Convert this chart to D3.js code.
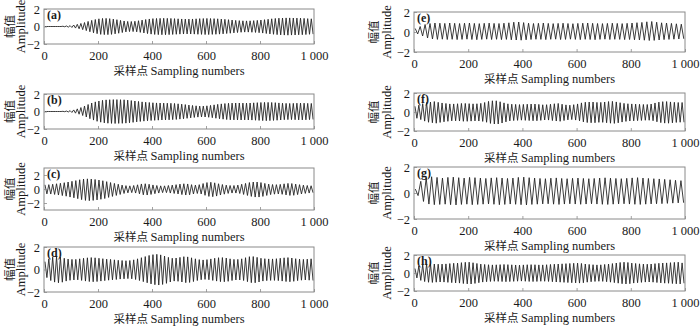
<!DOCTYPE html>
<html>
<head>
<meta charset="utf-8">
<script src="https://cdn.jsdelivr.net/npm/d3@7"></script>
<style>
html,body{margin:0;padding:0;background:#fff;}
svg{display:block;}
</style>
</head>
<body>
<svg id="chart" width="700" height="326"></svg>
<script>
// ---------- data ----------
const xTicks = [0, 200, 400, 600, 800, 1000];
const xTickLabels = ["0", "200", "400", "600", "800", "1 000"];
const yTicks = [-2, 0, 2];
const yTickLabels = ["\u22122", "0", "2"];
const panelLabels = ["(a)", "(b)", "(c)", "(d)", "(e)", "(f)", "(g)", "(h)"];
const yTitleCn = "幅值";
const yTitleEn = "Amplitude";
const xTitleCn = "采样点";
const xTitleEn = "Sampling numbers";

// successive positive peaks / negative troughs of each signal
const aPeaks = [0,0,0,0,0,0.03,0.06,0.1,0.17,0.25,
  0.35,0.45,0.58,0.7,0.8,0.88,0.92,0.93,0.9,0.85,
  0.78,0.7,0.63,0.58,0.57,0.6,0.66,0.73,0.8,0.86,
  0.9,0.92,0.93,0.94,0.93,0.92,0.9,0.88,0.86,0.85,
  0.85,0.86,0.88,0.9,0.91,0.92,0.91,0.9,0.88,0.85,
  0.82,0.78,0.74,0.7,0.67,0.65,0.64,0.65,0.67,0.7,
  0.74,0.78,0.83,0.88,0.92,0.95,0.97,0.98,0.98,0.97,
  0.96,0.95,0.93,0.9,0.88];
const aTroughs = [0,0,0,0,0,-0.03,-0.07,-0.11,-0.18,-0.26,
  -0.36,-0.47,-0.6,-0.72,-0.82,-0.9,-0.93,-0.93,-0.9,-0.84,
  -0.77,-0.69,-0.62,-0.58,-0.58,-0.61,-0.67,-0.74,-0.81,-0.87,
  -0.91,-0.93,-0.94,-0.94,-0.93,-0.91,-0.89,-0.87,-0.86,-0.85,
  -0.86,-0.87,-0.89,-0.9,-0.92,-0.92,-0.9,-0.89,-0.87,-0.84,
  -0.8,-0.77,-0.73,-0.69,-0.66,-0.64,-0.64,-0.66,-0.68,-0.71,
  -0.75,-0.8,-0.85,-0.89,-0.93,-0.96,-0.98,-0.99,-0.98,-0.97,
  -0.95,-0.94,-0.92,-0.89,-0.87];

const bPeaks = [0,0,0,0,0,0.02,
  0.05,0.1,0.18,0.3,0.45,0.62,0.8,0.97,1.1,1.2,
  1.28,1.33,1.35,1.36,1.36,1.35,1.34,1.3,1.25,1.2,
  1.15,1.1,1.06,1.03,1.0,0.98,0.97,0.96,0.95,0.94,
  0.92,0.88,0.84,0.79,0.74,0.69,0.65,0.62,0.62,0.65,
  0.7,0.76,0.82,0.87,0.91,0.94,0.96,0.97,0.97,0.96,
  0.96,0.97,0.99,1.01,1.03,1.04,1.04,1.03,1.01,0.98,
  0.95,0.93,0.92,0.93,0.95,0.96,0.95,0.93,0.92];
const bTroughs = [0,0,0,0,0,-0.02,
  -0.05,-0.11,-0.19,-0.31,-0.46,-0.63,-0.82,-0.98,-1.12,-1.22,
  -1.3,-1.34,-1.36,-1.37,-1.36,-1.35,-1.33,-1.29,-1.24,-1.19,
  -1.14,-1.1,-1.06,-1.03,-1.01,-0.99,-0.97,-0.96,-0.95,-0.93,
  -0.91,-0.87,-0.83,-0.78,-0.73,-0.68,-0.64,-0.62,-0.63,-0.66,
  -0.71,-0.77,-0.83,-0.88,-0.92,-0.95,-0.96,-0.97,-0.97,-0.96,
  -0.97,-0.98,-1.0,-1.02,-1.04,-1.05,-1.04,-1.02,-1.0,-0.97,
  -0.94,-0.93,-0.93,-0.94,-0.96,-0.96,-0.95,-0.93,-0.91];

const cPeaks = [0.6,0.62,0.68,0.75,0.82,0.9,1.0,1.1,1.2,1.32,
  1.42,1.45,1.42,1.36,1.28,1.18,1.05,0.92,0.8,0.68,
  0.56,0.48,0.45,0.5,0.6,0.72,0.75,0.68,0.58,0.5,
  0.45,0.45,0.5,0.56,0.62,0.7,0.75,0.72,0.62,0.56,
  0.62,0.78,0.92,0.96,0.88,0.75,0.64,0.55,0.5,0.5,
  0.56,0.68,0.8,0.92,1.0,1.0,0.92,0.8,0.7,0.64,
  0.62,0.66,0.74,0.8,0.78,0.7,0.62,0.55,0.5,0.46];
const cTroughs = [-0.7,-0.72,-0.78,-0.86,-0.94,-1.03,-1.15,-1.26,-1.38,-1.52,
  -1.63,-1.67,-1.63,-1.56,-1.47,-1.36,-1.2,-1.06,-0.92,-0.78,
  -0.64,-0.55,-0.52,-0.58,-0.69,-0.83,-0.86,-0.78,-0.67,-0.58,
  -0.52,-0.52,-0.58,-0.64,-0.71,-0.8,-0.86,-0.83,-0.71,-0.64,
  -0.71,-0.9,-1.06,-1.1,-1.01,-0.86,-0.74,-0.63,-0.58,-0.58,
  -0.64,-0.78,-0.92,-1.06,-1.15,-1.15,-1.06,-0.92,-0.8,-0.74,
  -0.71,-0.76,-0.85,-0.92,-0.9,-0.8,-0.71,-0.63,-0.58,-0.53];

const dPeaks = [0.7,0.95,1.1,1.15,1.1,1.0,0.93,0.9,0.9,0.95,
  1.0,1.04,1.06,1.04,1.0,0.96,0.92,0.9,0.86,0.82,
  0.8,0.78,0.8,0.86,0.95,1.05,1.15,1.25,1.32,1.35,
  1.3,1.2,1.08,1.0,1.02,1.08,1.14,1.12,1.04,0.95,
  0.88,0.85,0.88,0.94,1.0,1.05,1.06,1.02,0.95,0.9,
  0.9,0.95,1.05,1.14,1.15,1.08,1.0,0.96,0.94,0.94,
  0.96,1.0,1.04,1.06,1.02,0.96,0.92,0.9,0.92,0.95];
const dTroughs = [-0.72,-0.98,-1.12,-1.18,-1.13,-1.03,-0.96,-0.93,-0.92,-0.97,
  -1.03,-1.07,-1.09,-1.07,-1.03,-0.99,-0.95,-0.92,-0.89,-0.85,
  -0.83,-0.81,-0.83,-0.89,-0.98,-1.08,-1.18,-1.28,-1.35,-1.38,
  -1.33,-1.23,-1.11,-1.03,-1.05,-1.11,-1.17,-1.15,-1.07,-0.98,
  -0.91,-0.88,-0.91,-0.97,-1.03,-1.08,-1.09,-1.05,-0.98,-0.93,
  -0.93,-0.98,-1.08,-1.17,-1.18,-1.11,-1.03,-0.99,-0.97,-0.97,
  -0.99,-1.03,-1.07,-1.09,-1.05,-0.99,-0.95,-0.93,-0.95,-0.98];

const ePeaks = [0.35,0.55,0.75,0.85,0.9,0.88,0.86,0.9,0.87,0.85,
  0.88,0.9,0.86,0.84,0.87,0.89,0.86,0.85,0.88,0.92,
  0.98,1.0,0.94,0.88,0.85,0.87,0.9,0.86,0.84,0.86,
  0.88,0.85,0.83,0.86,0.88,0.9,0.87,0.85,0.84,0.86,
  0.88,0.86,0.84,0.87,0.9,0.93,0.96,1.02,1.05,0.98,
  0.92,0.9,0.86,0.82,0.78];
const eTroughs = [-0.2,-0.4,-0.6,-0.7,-0.74,-0.72,-0.75,-0.73,-0.76,-0.74,
  -0.72,-0.75,-0.77,-0.74,-0.72,-0.75,-0.73,-0.76,-0.74,-0.78,
  -0.8,-0.82,-0.78,-0.75,-0.73,-0.74,-0.76,-0.73,-0.72,-0.75,
  -0.74,-0.72,-0.74,-0.76,-0.73,-0.75,-0.77,-0.74,-0.72,-0.75,
  -0.73,-0.74,-0.76,-0.75,-0.78,-0.8,-0.82,-0.85,-0.84,-0.8,
  -0.76,-0.74,-0.72,-0.7,-0.68];

const fPeaks = [0.6,0.72,0.88,1.0,1.05,1.1,1.02,0.95,0.9,0.85,
  0.85,0.87,0.9,0.9,0.88,0.86,0.87,0.91,1.0,1.12,
  1.18,1.18,1.08,0.96,0.86,0.82,0.8,0.78,0.8,0.82,
  0.84,0.84,0.8,0.76,0.77,0.82,0.87,0.9,0.82,0.75,
  0.72,0.77,0.85,0.96,1.03,1.05,1.05,1.01,1.01,1.05,
  1.1,1.12,1.06,0.98,0.91,0.87,0.85,0.83,0.81,0.79,
  0.79,0.84,0.95,1.04,1.09,1.1,1.06,1.02,1.0,1.0];
const fTroughs = [-0.66,-0.8,-0.96,-1.08,-1.13,-1.18,-1.1,-1.03,-0.98,-0.93,
  -0.93,-0.95,-0.98,-0.98,-0.96,-0.94,-0.95,-0.99,-1.08,-1.2,
  -1.26,-1.26,-1.16,-1.04,-0.94,-0.9,-0.88,-0.86,-0.88,-0.9,
  -0.92,-0.92,-0.88,-0.84,-0.85,-0.9,-0.95,-0.98,-0.9,-0.83,
  -0.8,-0.85,-0.93,-1.04,-1.11,-1.13,-1.13,-1.09,-1.09,-1.13,
  -1.18,-1.2,-1.14,-1.06,-0.99,-0.95,-0.93,-0.91,-0.89,-0.87,
  -0.87,-0.92,-1.03,-1.12,-1.17,-1.18,-1.14,-1.1,-1.08,-1.08];

const gPeaks = [0.3,0.9,1.15,1.25,1.2,1.15,1.2,1.22,1.18,1.15,
  1.2,1.18,1.15,1.12,1.16,1.18,1.15,1.12,1.15,1.2,
  1.22,1.18,1.15,1.12,1.1,1.14,1.16,1.12,1.1,1.13,
  1.15,1.12,1.1,1.12,1.15,1.17,1.14,1.12,1.1,1.13,
  1.16,1.18,1.15,1.12,1.1,1.08,1.05,1.02,0.98,0.95];
const gTroughs = [-0.2,-0.65,-0.85,-0.9,-0.88,-0.86,-0.9,-0.92,-0.88,-0.86,
  -0.9,-0.88,-0.86,-0.84,-0.87,-0.9,-0.88,-0.85,-0.87,-0.9,
  -0.92,-0.88,-0.86,-0.84,-0.83,-0.86,-0.88,-0.85,-0.83,-0.85,
  -0.87,-0.85,-0.83,-0.85,-0.87,-0.88,-0.86,-0.84,-0.83,-0.85,
  -0.87,-0.88,-0.86,-0.84,-0.83,-0.82,-0.8,-0.78,-0.76,-0.75];

const hPeaks = [0.5,0.78,0.93,1.0,1.02,1.0,0.98,0.99,1.01,1.05,
  1.08,1.1,1.15,1.19,1.2,1.14,1.06,0.99,0.95,0.92,
  0.9,0.91,0.93,0.95,0.93,0.91,0.89,0.88,0.9,0.92,
  0.93,0.92,0.9,0.9,0.92,0.95,0.98,1.0,1.02,1.04,
  1.06,1.08,1.1,1.06,1.0,0.95,0.92,0.9,0.91,0.95,
  1.0,1.05,1.11,1.17,1.2,1.17,1.1,1.06,1.02,0.99,
  0.98,1.0,1.04,1.08,1.11,1.12,1.15,1.18,1.2,1.12];
const hTroughs = [-0.55,-0.82,-0.95,-1.03,-1.05,-1.02,-1.0,-1.01,-1.04,-1.07,
  -1.1,-1.12,-1.17,-1.21,-1.22,-1.16,-1.08,-1.01,-0.97,-0.94,
  -0.92,-0.93,-0.95,-0.97,-0.95,-0.93,-0.91,-0.9,-0.92,-0.94,
  -0.95,-0.94,-0.92,-0.92,-0.94,-0.97,-1.0,-1.02,-1.04,-1.06,
  -1.08,-1.1,-1.12,-1.08,-1.02,-0.97,-0.94,-0.92,-0.93,-0.97,
  -1.02,-1.07,-1.13,-1.19,-1.22,-1.19,-1.12,-1.08,-1.04,-1.01,
  -1.0,-1.02,-1.06,-1.1,-1.13,-1.14,-1.17,-1.2,-1.22,-1.14];

// ---------- layout (positions / styles) ----------
const layout = [
  {peaks:aPeaks, troughs:aTroughs, x0:44,  x1:314, top:9,   bottom:44,  yDom:[-2,2], col:0},
  {peaks:bPeaks, troughs:bTroughs, x0:44,  x1:314, top:94,  bottom:129, yDom:[-2,2], col:0},
  {peaks:cPeaks, troughs:cTroughs, x0:44,  x1:314, top:168, bottom:210, yDom:[-3,3], col:0},
  {peaks:dPeaks, troughs:dTroughs, x0:44,  x1:314, top:247, bottom:292, yDom:[-2,2], col:0},
  {peaks:ePeaks, troughs:eTroughs, x0:414, x1:685, top:12,  bottom:52,  yDom:[-2,2], col:1},
  {peaks:fPeaks, troughs:fTroughs, x0:414, x1:685, top:93,  bottom:131, yDom:[-2,2], col:1},
  {peaks:gPeaks, troughs:gTroughs, x0:414, x1:685, top:167, bottom:219, yDom:[-2,2], col:1},
  {peaks:hPeaks, troughs:hTroughs, x0:414, x1:685, top:255, bottom:291, yDom:[-2,2], col:1}
];
const titleOffsets = [{cn:34, en:23}, {cn:40, en:27}];
const serif = "'Liberation Serif','Times New Roman',serif";
const cjk = "'Noto Sans CJK SC','Noto Sans CJK JP',sans-serif";
const frameColor = "#8a8a8a";
const textColor = "#1a1a1a";

const svg = d3.select("#chart");

layout.forEach((p, i) => {
  const x = d3.scaleLinear().domain([0, 1000]).range([p.x0, p.x1]);
  const y = d3.scaleLinear().domain(p.yDom).range([p.bottom, p.top]);
  const g = svg.append("g");

  const cid = "clip" + i;
  svg.append("clipPath").attr("id", cid).append("rect")
    .attr("x", p.x0).attr("y", p.top).attr("width", p.x1 - p.x0).attr("height", p.bottom - p.top);

  // signal: alternating peaks and troughs, evenly spaced over the samples
  const n = Math.min(p.peaks.length, p.troughs.length);
  const period = 1000 / n;
  const pts = [];
  for (let k = 0; k < n; k++) {
    pts.push([(k + 0.25) * period, p.peaks[k]]);
    pts.push([(k + 0.75) * period, p.troughs[k]]);
  }
  g.append("path")
    .attr("clip-path", `url(#${cid})`)
    .attr("d", d3.line().x(d => x(d[0])).y(d => y(d[1])).curve(d3.curveLinear)(pts))
    .attr("fill", "none")
    .attr("stroke", "#262626")
    .attr("stroke-width", 0.9)
    .attr("stroke-linejoin", "round");

  // x axis (inward ticks)
  const xAxis = d3.axisBottom(x).tickValues(xTicks).tickSizeInner(-3).tickSizeOuter(0)
    .tickFormat((d, j) => xTickLabels[j]);
  const gx = g.append("g").attr("transform", `translate(0,${p.bottom})`).call(xAxis);
  gx.select(".domain").remove();
  gx.selectAll(".tick line").attr("stroke", frameColor).attr("stroke-width", 0.8);
  gx.selectAll(".tick text")
    .attr("y", 12).attr("dy", "0.35em")
    .attr("fill", textColor).attr("font-family", serif).attr("font-size", 12.5);

  // y axis
  const yAxis = d3.axisLeft(y).tickValues(yTicks).tickSizeInner(-3).tickSizeOuter(0)
    .tickFormat((d, j) => yTickLabels[j]);
  const gy = g.append("g").attr("transform", `translate(${p.x0},0)`).call(yAxis);
  gy.select(".domain").remove();
  gy.selectAll(".tick line").attr("stroke", frameColor).attr("stroke-width", 0.8);
  gy.selectAll(".tick text")
    .attr("x", -4).attr("dy", "0.35em")
    .attr("fill", textColor).attr("font-family", serif).attr("font-size", 12.5);

  // frame
  g.append("rect")
    .attr("x", p.x0).attr("y", p.top).attr("width", p.x1 - p.x0).attr("height", p.bottom - p.top)
    .attr("fill", "none").attr("stroke", frameColor).attr("stroke-width", 1);

  // panel label
  g.append("text")
    .attr("x", p.x0 + 3).attr("y", p.top + 6).attr("dy", "0.35em")
    .attr("font-family", serif).attr("font-size", 12).attr("font-weight", "bold")
    .attr("fill", textColor).text(panelLabels[i]);

  // y title (two rotated lines)
  const cy = (p.top + p.bottom) / 2;
  const off = titleOffsets[p.col];
  g.append("text")
    .attr("transform", `translate(${p.x0 - off.cn},${cy}) rotate(-90)`)
    .attr("text-anchor", "middle").attr("dy", "0.35em")
    .attr("font-family", cjk).attr("font-size", 11.5).attr("fill", textColor)
    .text(yTitleCn);
  g.append("text")
    .attr("transform", `translate(${p.x0 - off.en},${cy}) rotate(-90)`)
    .attr("text-anchor", "middle").attr("dy", "0.35em")
    .attr("font-family", serif).attr("font-size", 12.5).attr("fill", textColor)
    .text(yTitleEn);

  // x title
  const xt = g.append("text")
    .attr("x", (p.x0 + p.x1) / 2).attr("y", p.bottom + 27).attr("dy", "0.35em")
    .attr("text-anchor", "middle").attr("fill", textColor).attr("font-size", 12.5);
  xt.append("tspan").attr("font-family", cjk).attr("font-size", 11.5).text(xTitleCn + " ");
  xt.append("tspan").attr("font-family", serif).text(xTitleEn);
});
</script>
</body>
</html>
